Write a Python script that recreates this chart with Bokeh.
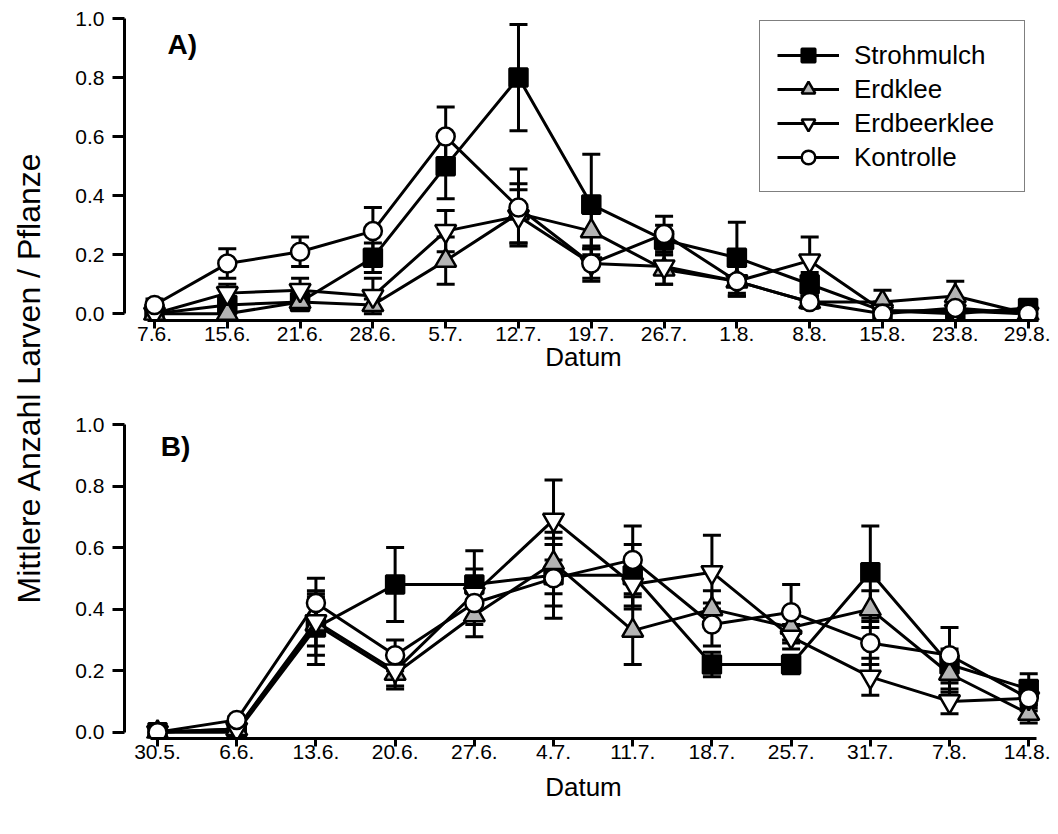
from bokeh.plotting import figure
from bokeh.models import (ColumnDataSource, Whisker, TeeHead, Range1d, FixedTicker,
                          Label, Legend, LegendItem)
from bokeh.layouts import row, column
from bokeh.embed import file_html
from bokeh.resources import INLINE

# ---------------- data ----------------
dates_a = ["7.6.", "15.6.", "21.6.", "28.6.", "5.7.", "12.7.", "19.7.", "26.7.",
           "1.8.", "8.8.", "15.8.", "23.8.", "29.8."]
stroh_a = [0.0, 0.03, 0.04, 0.19, 0.50, 0.80, 0.37, 0.25, 0.19, 0.10, 0.01, 0.0, 0.02]
stroh_a_se = [0.0, 0.02, 0.02, 0.05, 0.11, 0.18, 0.17, 0.05, 0.12, 0.04, 0.01, 0.01, 0.01]
erdk_a = [0.0, 0.0, 0.04, 0.03, 0.18, 0.34, 0.28, 0.15, 0.11, 0.04, 0.04, 0.06, 0.0]
erdk_a_se = [0.0, 0.01, 0.02, 0.02, 0.08, 0.10, 0.06, 0.05, 0.05, 0.02, 0.04, 0.05, 0.0]
erdb_a = [0.0, 0.07, 0.08, 0.06, 0.28, 0.33, 0.17, 0.16, 0.11, 0.18, 0.01, 0.01, 0.0]
erdb_a_se = [0.0, 0.03, 0.04, 0.06, 0.07, 0.09, 0.05, 0.06, 0.05, 0.08, 0.01, 0.01, 0.0]
kont_a = [0.03, 0.17, 0.21, 0.28, 0.60, 0.36, 0.17, 0.27, 0.11, 0.04, 0.0, 0.02, 0.0]
kont_a_se = [0.02, 0.05, 0.05, 0.08, 0.10, 0.13, 0.06, 0.06, 0.05, 0.02, 0.0, 0.02, 0.0]

dates_b = ["30.5.", "6.6.", "13.6.", "20.6.", "27.6.", "4.7.", "11.7.", "18.7.",
           "25.7.", "31.7.", "7.8.", "14.8."]
stroh_b = [0.0, 0.0, 0.34, 0.48, 0.48, 0.51, 0.51, 0.22, 0.22, 0.52, 0.22, 0.14]
stroh_b_se = [0.0, 0.01, 0.12, 0.12, 0.11, 0.10, 0.10, 0.04, 0.03, 0.15, 0.05, 0.05]
erdk_b = [0.0, 0.01, 0.35, 0.19, 0.38, 0.55, 0.33, 0.40, 0.34, 0.40, 0.19, 0.06]
erdk_b_se = [0.0, 0.01, 0.10, 0.05, 0.07, 0.10, 0.11, 0.06, 0.05, 0.06, 0.06, 0.03]
erdb_b = [0.0, 0.01, 0.36, 0.20, 0.45, 0.69, 0.48, 0.52, 0.31, 0.18, 0.10, 0.11]
erdb_b_se = [0.0, 0.01, 0.08, 0.05, 0.08, 0.13, 0.08, 0.12, 0.04, 0.06, 0.04, 0.03]
kont_b = [0.0, 0.04, 0.42, 0.25, 0.42, 0.50, 0.56, 0.35, 0.39, 0.29, 0.25, 0.11]
kont_b_se = [0.0, 0.01, 0.08, 0.05, 0.07, 0.13, 0.11, 0.07, 0.09, 0.07, 0.09, 0.04]

series_names = ["Strohmulch", "Erdklee", "Erdbeerklee", "Kontrolle"]
y_ticks = [0.0, 0.2, 0.4, 0.6, 0.8, 1.0]

# ---------------- styles ----------------
FONT = "Liberation Sans"
styles = [
    dict(marker="square", fill="black", size=18),
    dict(marker="triangle", fill="#b4b4b4", size=21),
    dict(marker="inverted_triangle", fill="white", size=21),
    dict(marker="circle", fill="white", size=18),
]


def make_panel(dates, data, height, b_top, b_bottom, xr, yr, xbounds, tag, tag_pos,
               label_standoff, legend=False):
    n = len(dates)
    xs = list(range(n))
    p = figure(width=986, height=height, x_range=Range1d(*xr), y_range=Range1d(*yr),
               toolbar_location=None, output_backend="svg", title=None,
               min_border_left=60, min_border_right=8,
               min_border_top=b_top, min_border_bottom=b_bottom)
    p.outline_line_color = None
    p.grid.visible = False
    p.background_fill_color = "white"

    items = []
    for (vals, se), st, name in zip(data, styles, series_names):
        src = ColumnDataSource(dict(x=xs, y=vals,
                                    lo=[v - e for v, e in zip(vals, se)],
                                    hi=[v + e for v, e in zip(vals, se)]))
        w = Whisker(source=src, base="x", upper="hi", lower="lo", dimension="height",
                    line_color="black", line_width=3,
                    upper_head=TeeHead(size=18, line_width=3, line_color="black"),
                    lower_head=TeeHead(size=18, line_width=3, line_color="black"))
        p.add_layout(w)
        lr = p.line("x", "y", source=src, line_color="black", line_width=3)
        sr = p.scatter("x", "y", source=src, marker=st["marker"], size=st["size"],
                       fill_color=st["fill"], line_color="black", line_width=2.5)
        items.append(LegendItem(label=name, renderers=[lr, sr]))

    # axes
    xa = p.xaxis[0]
    xa.ticker = FixedTicker(ticks=xs)
    xa.major_label_overrides = {i: d for i, d in enumerate(dates)}
    xa.bounds = xbounds
    xa.axis_label = "Datum"
    ya = p.yaxis[0]
    ya.ticker = FixedTicker(ticks=y_ticks)
    ya.major_label_overrides = {t: f"{t:.1f}" for t in y_ticks}
    ya.bounds = (0, 1)
    for ax in (xa, ya):
        ax.axis_line_width = 3
        ax.axis_line_color = "black"
        ax.major_tick_line_width = 3
        ax.major_tick_line_color = "black"
        ax.major_tick_in = 0
        ax.minor_tick_line_color = None
        ax.major_label_text_font = FONT
        ax.major_label_text_font_size = "21px"
        ax.major_label_text_color = "black"
        ax.axis_label_text_font = FONT
        ax.axis_label_text_font_size = "26px"
        ax.axis_label_text_font_style = "normal"
        ax.axis_label_text_color = "black"
    xa.major_tick_out = 8
    xa.major_label_standoff = -2
    xa.axis_label_standoff = label_standoff
    ya.major_tick_out = 12
    ya.major_label_standoff = 8

    p.add_layout(Label(x=tag_pos[0], y=tag_pos[1], text=tag, text_font=FONT,
                       text_font_size="28px", text_font_style="bold",
                       text_color="black", text_baseline="alphabetic"))

    if legend:
        lg = Legend(items=items, location=(635, 128),
                    border_line_color="black", border_line_width=1,
                    background_fill_color="white", background_fill_alpha=1.0,
                    label_text_font=FONT, label_text_font_size="26px",
                    label_text_color="black", label_width=153, label_height=34,
                    glyph_width=62, glyph_height=34, spacing=0,
                    padding=17, label_standoff=15, margin=0)
        p.add_layout(lg)
    return p


pA = make_panel(dates_a,
                [(stroh_a, stroh_a_se), (erdk_a, erdk_a_se), (erdb_a, erdb_a_se), (kont_a, kont_a_se)],
                height=390, b_top=18, b_bottom=70,
                xr=(-0.412, 12.198), yr=(-0.0227, 1.0), xbounds=(-0.1, 12.14),
                tag="A)", tag_pos=(0.18, 0.912), label_standoff=-2, legend=True)
pB = make_panel(dates_b,
                [(stroh_b, stroh_b_se), (erdk_b, erdk_b_se), (erdb_b, erdb_b_se), (kont_b, kont_b_se)],
                height=436, b_top=34, b_bottom=88,
                xr=(-0.417, 11.174), yr=(-0.0205, 1.0), xbounds=(-0.09, 11.1),
                tag="B)", tag_pos=(0.04, 0.928), label_standoff=10)

# shared y-axis label
pl = figure(width=64, height=826, x_range=Range1d(0, 64), y_range=Range1d(0, 826),
            toolbar_location=None, output_backend="svg", title=None,
            x_axis_type=None, y_axis_type=None, min_border=0)
pl.outline_line_color = None
pl.grid.visible = False
pl.add_layout(Label(x=28, y=449, text="Mittlere Anzahl Larven / Pflanze",
                    angle=90, angle_units="deg", text_align="center",
                    text_baseline="middle", text_font=FONT, text_font_size="32px",
                    text_color="black"))

layout = row(pl, column(pA, pB))
open("out.html", "w").write(file_html(layout, INLINE))
